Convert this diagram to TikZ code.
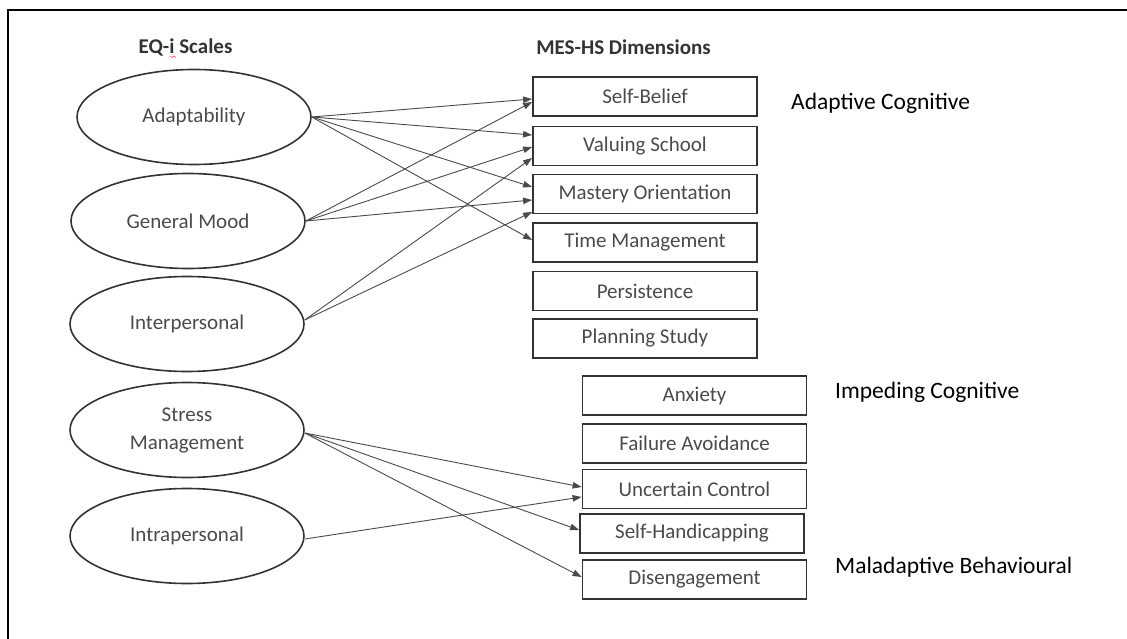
\documentclass[tikz,border=0pt]{standalone}
\usepackage{fontspec}
\setmainfont{Carlito}
\usetikzlibrary{shapes.geometric,arrows.meta}
\definecolor{txtgray}{HTML}{4A4A4A}
\definecolor{linegray}{HTML}{333333}
\tikzset{
  eqscale/.style={ellipse,draw=linegray,line width=1.6pt,minimum width=234pt,minimum height=95pt,inner sep=0pt,
    text=txtgray,font=\fontsize{21}{28}\selectfont,align=center},
  dimbox/.style={rectangle,draw=linegray,line width=1.8pt,minimum width=224pt,minimum height=39pt,inner sep=0pt,
    text=txtgray,font=\fontsize{21}{25}\selectfont},
  header/.style={text=linegray,font=\fontsize{21}{25}\selectfont\bfseries,inner sep=0pt},
  grouplabel/.style={anchor=west,text=black,font=\fontsize{23.5}{28}\selectfont,inner sep=0pt},
  link/.style={draw=txtgray,line width=0.9pt,-{Triangle[length=9pt,width=6.5pt]}},
}
\begin{document}
\begin{tikzpicture}[x=1pt,y=-1pt]
\useasboundingbox (0,0) rectangle (1127,639);
% frame (top and left edges)
\draw[line width=2pt,black] (8,639) -- (8,10) -- (1127,10);
% headers
\node[header] (h1) at (185.5,47) {EQ-i Scales};
\draw[red!70,line width=0.6pt] (170,56) -- (172,57.5) -- (174,56) -- (176,57.5);
\node[header] (h2) at (623.5,47) {MES-HS Dimensions};
% EQ-i scales
\node[eqscale] (ad) at (194,117) {Adaptability};
\node[eqscale] (gm) at (188,221) {General Mood};
\node[eqscale] (ip) at (187,324) {Interpersonal};
\node[eqscale] (sm) at (187,430) {Stress\\Management};
\node[eqscale] (ia) at (187,536) {Intrapersonal};
% MES-HS dimensions
\node[dimbox] (sb) at (645,96.5) {Self-Belief};
\node[dimbox] (vs) at (645,146) {Valuing School};
\node[dimbox] (mo) at (645,194) {Mastery Orientation};
\node[dimbox] (tm) at (645,242.5) {Time Management};
\node[dimbox] (pe) at (645,291) {Persistence};
\node[dimbox] (ps) at (645,338.5) {Planning Study};
\node[dimbox] (ax) at (694.5,395.5) {Anxiety};
\node[dimbox] (fa) at (694.5,443.5) {Failure Avoidance};
\node[dimbox] (uc) at (694.5,489) {Uncertain Control};
\node[dimbox] (sh) at (692,533.5) {Self-Handicapping};
\node[dimbox] (dg) at (694.5,579.5) {Disengagement};
% group labels
\node[grouplabel] (g1) at (791,103) {Adaptive Cognitive};
\node[grouplabel] (g2) at (835,392) {Impeding Cognitive};
\node[grouplabel] (g3) at (835,567) {Maladaptive Behavioural};
% connectors
\draw[link] (ad.east) -- ([yshift=-2.5pt]sb.west);
\draw[link] (ad.east) -- ([yshift=11pt]vs.west);
\draw[link] (ad.east) -- ([yshift=7pt]mo.west);
\draw[link] (ad.east) -- ([yshift=2.5pt]tm.west);
\draw[link] (gm.east) -- ([yshift=-5.5pt]sb.west);
\draw[link] (gm.east) -- ([yshift=-1pt]vs.west);
\draw[link] (gm.east) -- ([yshift=-6pt]mo.west);
\draw[link] ([yshift=4pt]ip.east) -- ([yshift=-12pt]vs.west);
\draw[link] ([yshift=4pt]ip.east) -- ([yshift=-18pt]mo.west);
\draw[link] ([yshift=-3pt]sm.east) -- ([yshift=2pt]uc.west);
\draw[link] ([yshift=-3pt]sm.east) -- ([yshift=3.5pt]sh.west);
\draw[link] ([yshift=-3pt]sm.east) -- ([yshift=2.5pt]dg.west);
\draw[link] ([yshift=-3pt]ia.east) -- ([yshift=-8pt]uc.west);
\end{tikzpicture}
\end{document}
